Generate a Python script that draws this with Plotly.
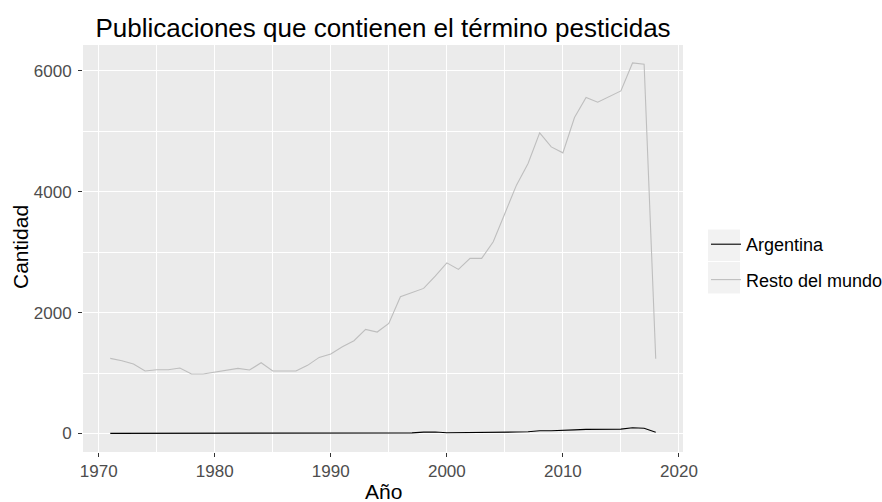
import plotly.graph_objects as go

years = list(range(1971, 2019))

resto_del_mundo = [1243, 1203, 1149, 1033, 1055, 1055, 1083, 983, 983, 1011,
                   1044, 1077, 1050, 1170, 1033, 1033, 1033, 1127, 1259, 1314,
                   1435, 1534, 1722, 1678, 1822, 2262, 2328, 2400, 2603, 2823,
                   2714, 2896, 2896, 3171, 3640, 4108, 4466, 4972, 4741, 4642,
                   5227, 5557, 5480, 5567, 5667, 6129, 6108, 1235]

argentina = [2, 2, 2, 3, 3, 3, 3, 3, 4, 4,
             4, 4, 5, 5, 5, 5, 6, 6, 6, 6,
             7, 7, 8, 8, 9, 9, 10, 22, 24, 12,
             12, 18, 20, 20, 22, 24, 28, 45, 46, 48,
             60, 68, 70, 70, 72, 96, 86, 22]

x_ticks = [1970, 1980, 1990, 2000, 2010, 2020]
y_ticks = [0, 2000, 4000, 6000]

title_text = "Publicaciones que contienen el término pesticidas"
x_title = "Año"
y_title = "Cantidad"

FONT = "Liberation Sans, Arial, sans-serif"
TICK_SIZE = 17
LEGEND_SIZE = 18
AXIS_TITLE_SIZE = 21
TITLE_SIZE = 26

fig = go.Figure()
fig.add_trace(go.Scatter(x=years, y=argentina, mode="lines", name="Argentina",
                         legendgroup="a",
                         line=dict(color="black", width=1.1)))
fig.add_trace(go.Scatter(x=years, y=resto_del_mundo, mode="lines", name="Resto del mundo",
                         legendgroup="b",
                         line=dict(color="#BEBEBE", width=1.1)))

L, R, T, B = 83, 683, 45, 452
W, H = 882, 502

def px_x(p):
    return (p - L) / (R - L)

def px_y(p):
    return (B - p) / (B - T)

shapes = []
for (y0, y1) in [(229.5, 261), (262, 293.5)]:
    shapes.append(dict(type="rect", xref="paper", yref="paper",
                       x0=px_x(708), x1=px_x(740), y0=px_y(y1), y1=px_y(y0),
                       fillcolor="#F2F2F2", line=dict(width=0), layer="below"))

annotations = [
    dict(text=x_title, xref="paper", yref="paper", x=px_x(383), y=px_y(492),
         xanchor="center", yanchor="middle", showarrow=False,
         font=dict(size=AXIS_TITLE_SIZE, color="black", family=FONT)),
    dict(text=y_title, xref="paper", yref="paper", x=px_x(20.5), y=px_y(247.5),
         xanchor="center", yanchor="middle", showarrow=False, textangle=-90,
         font=dict(size=AXIS_TITLE_SIZE, color="black", family=FONT)),
]

fig.update_layout(
    width=W, height=H,
    margin=dict(l=L, r=W - R, t=T, b=H - B, pad=0),
    paper_bgcolor="white",
    plot_bgcolor="#EBEBEB",
    font=dict(family=FONT, color="black"),
    title=dict(text=title_text, x=(L + R) / 2 / W, xanchor="center",
               y=1 - 28 / H, yanchor="middle",
               font=dict(size=TITLE_SIZE, color="black", family=FONT)),
    showlegend=True,
    legend=dict(xref="container", yref="container",
                x=706 / W, xanchor="left", y=1 - 262 / H, yanchor="middle",
                font=dict(size=LEGEND_SIZE, color="black", family=FONT),
                bgcolor="rgba(0,0,0,0)", tracegroupgap=9,
                traceorder="grouped"),
    shapes=shapes,
    annotations=annotations,
    xaxis=dict(range=[1968.65, 2020.35], tickvals=x_ticks,
               ticktext=[str(v) for v in x_ticks],
               showgrid=True, gridcolor="white", gridwidth=1.2,
               minor=dict(tickvals=[1975, 1985, 1995, 2005, 2015],
                          showgrid=True, gridcolor="white", gridwidth=0.6, ticks=""),
               ticks="outside", ticklen=4, tickwidth=1, tickcolor="#333333",
               tickfont=dict(size=TICK_SIZE, color="#4D4D4D", family=FONT),
               zeroline=False, showline=False, automargin=False),
    yaxis=dict(range=[-306, 6426], tickvals=y_ticks,
               ticktext=[str(v) for v in y_ticks],
               showgrid=True, gridcolor="white", gridwidth=1.2,
               minor=dict(tickvals=[1000, 3000, 5000],
                          showgrid=True, gridcolor="white", gridwidth=0.6, ticks=""),
               ticks="outside", ticklen=4, tickwidth=1, tickcolor="#333333",
               ticklabelstandoff=3,
               tickfont=dict(size=TICK_SIZE, color="#4D4D4D", family=FONT),
               zeroline=False, showline=False, automargin=False),
)

fig.write_html("out.html", config={"displayModeBar": False},
               post_script="document.body.style.margin='0';document.body.style.overflow='hidden';")
